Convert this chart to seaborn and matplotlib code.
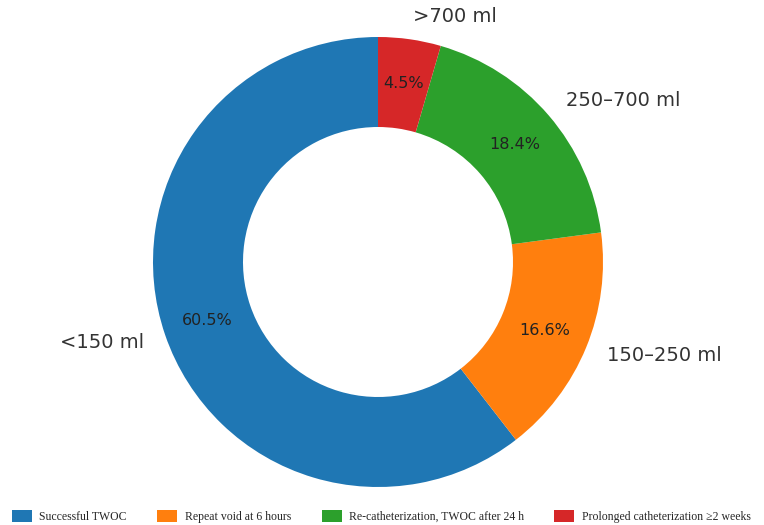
import matplotlib
matplotlib.use("Agg")
import matplotlib.pyplot as plt
import seaborn as sns

# Data
categories = ["<150 ml", "150–250 ml", "250–700 ml", ">700 ml"]
values = [60.5, 16.6, 18.4, 4.5]
legend_labels = ["Successful TWOC", "Repeat void at 6 hours",
                 "Re-catheterization, TWOC after 24 h",
                 "Prolonged catheterization \u22652 weeks"]

sns.set_theme(style="white")
colors = sns.color_palette("tab10", 4)

fig = plt.figure(figsize=(7.64, 5.25), dpi=100)
ax = fig.add_axes([0, 0, 1, 1])

wedges, texts, autotexts = ax.pie(
    values, labels=categories, colors=colors, startangle=90, counterclock=True,
    autopct="%1.1f%%", pctdistance=0.8, labeldistance=1.1,
    wedgeprops=dict(width=0.4, edgecolor="none"),
    textprops=dict(fontsize=14, color="#333333", family="DejaVu Sans"),
)
for t in autotexts:
    t.set_fontsize(11.5)
    t.set_color("#222222")

ax.set_aspect("auto")
ax.set_xlim(-378 / 225, (764 - 378) / 225)
ax.set_ylim(-(525 - 262) / 225, 262 / 225)
ax.axis("off")

fig.legend(wedges, legend_labels, loc="lower center", ncol=4,
           bbox_to_anchor=(0.499, 0.0), frameon=False,
           prop=dict(family="Liberation Serif", size=8.5),
           handlelength=1.7, handleheight=1.2, columnspacing=2.6,
           handletextpad=0.6, borderaxespad=0.0, borderpad=0.2)

fig.savefig("out.png", dpi=100)
